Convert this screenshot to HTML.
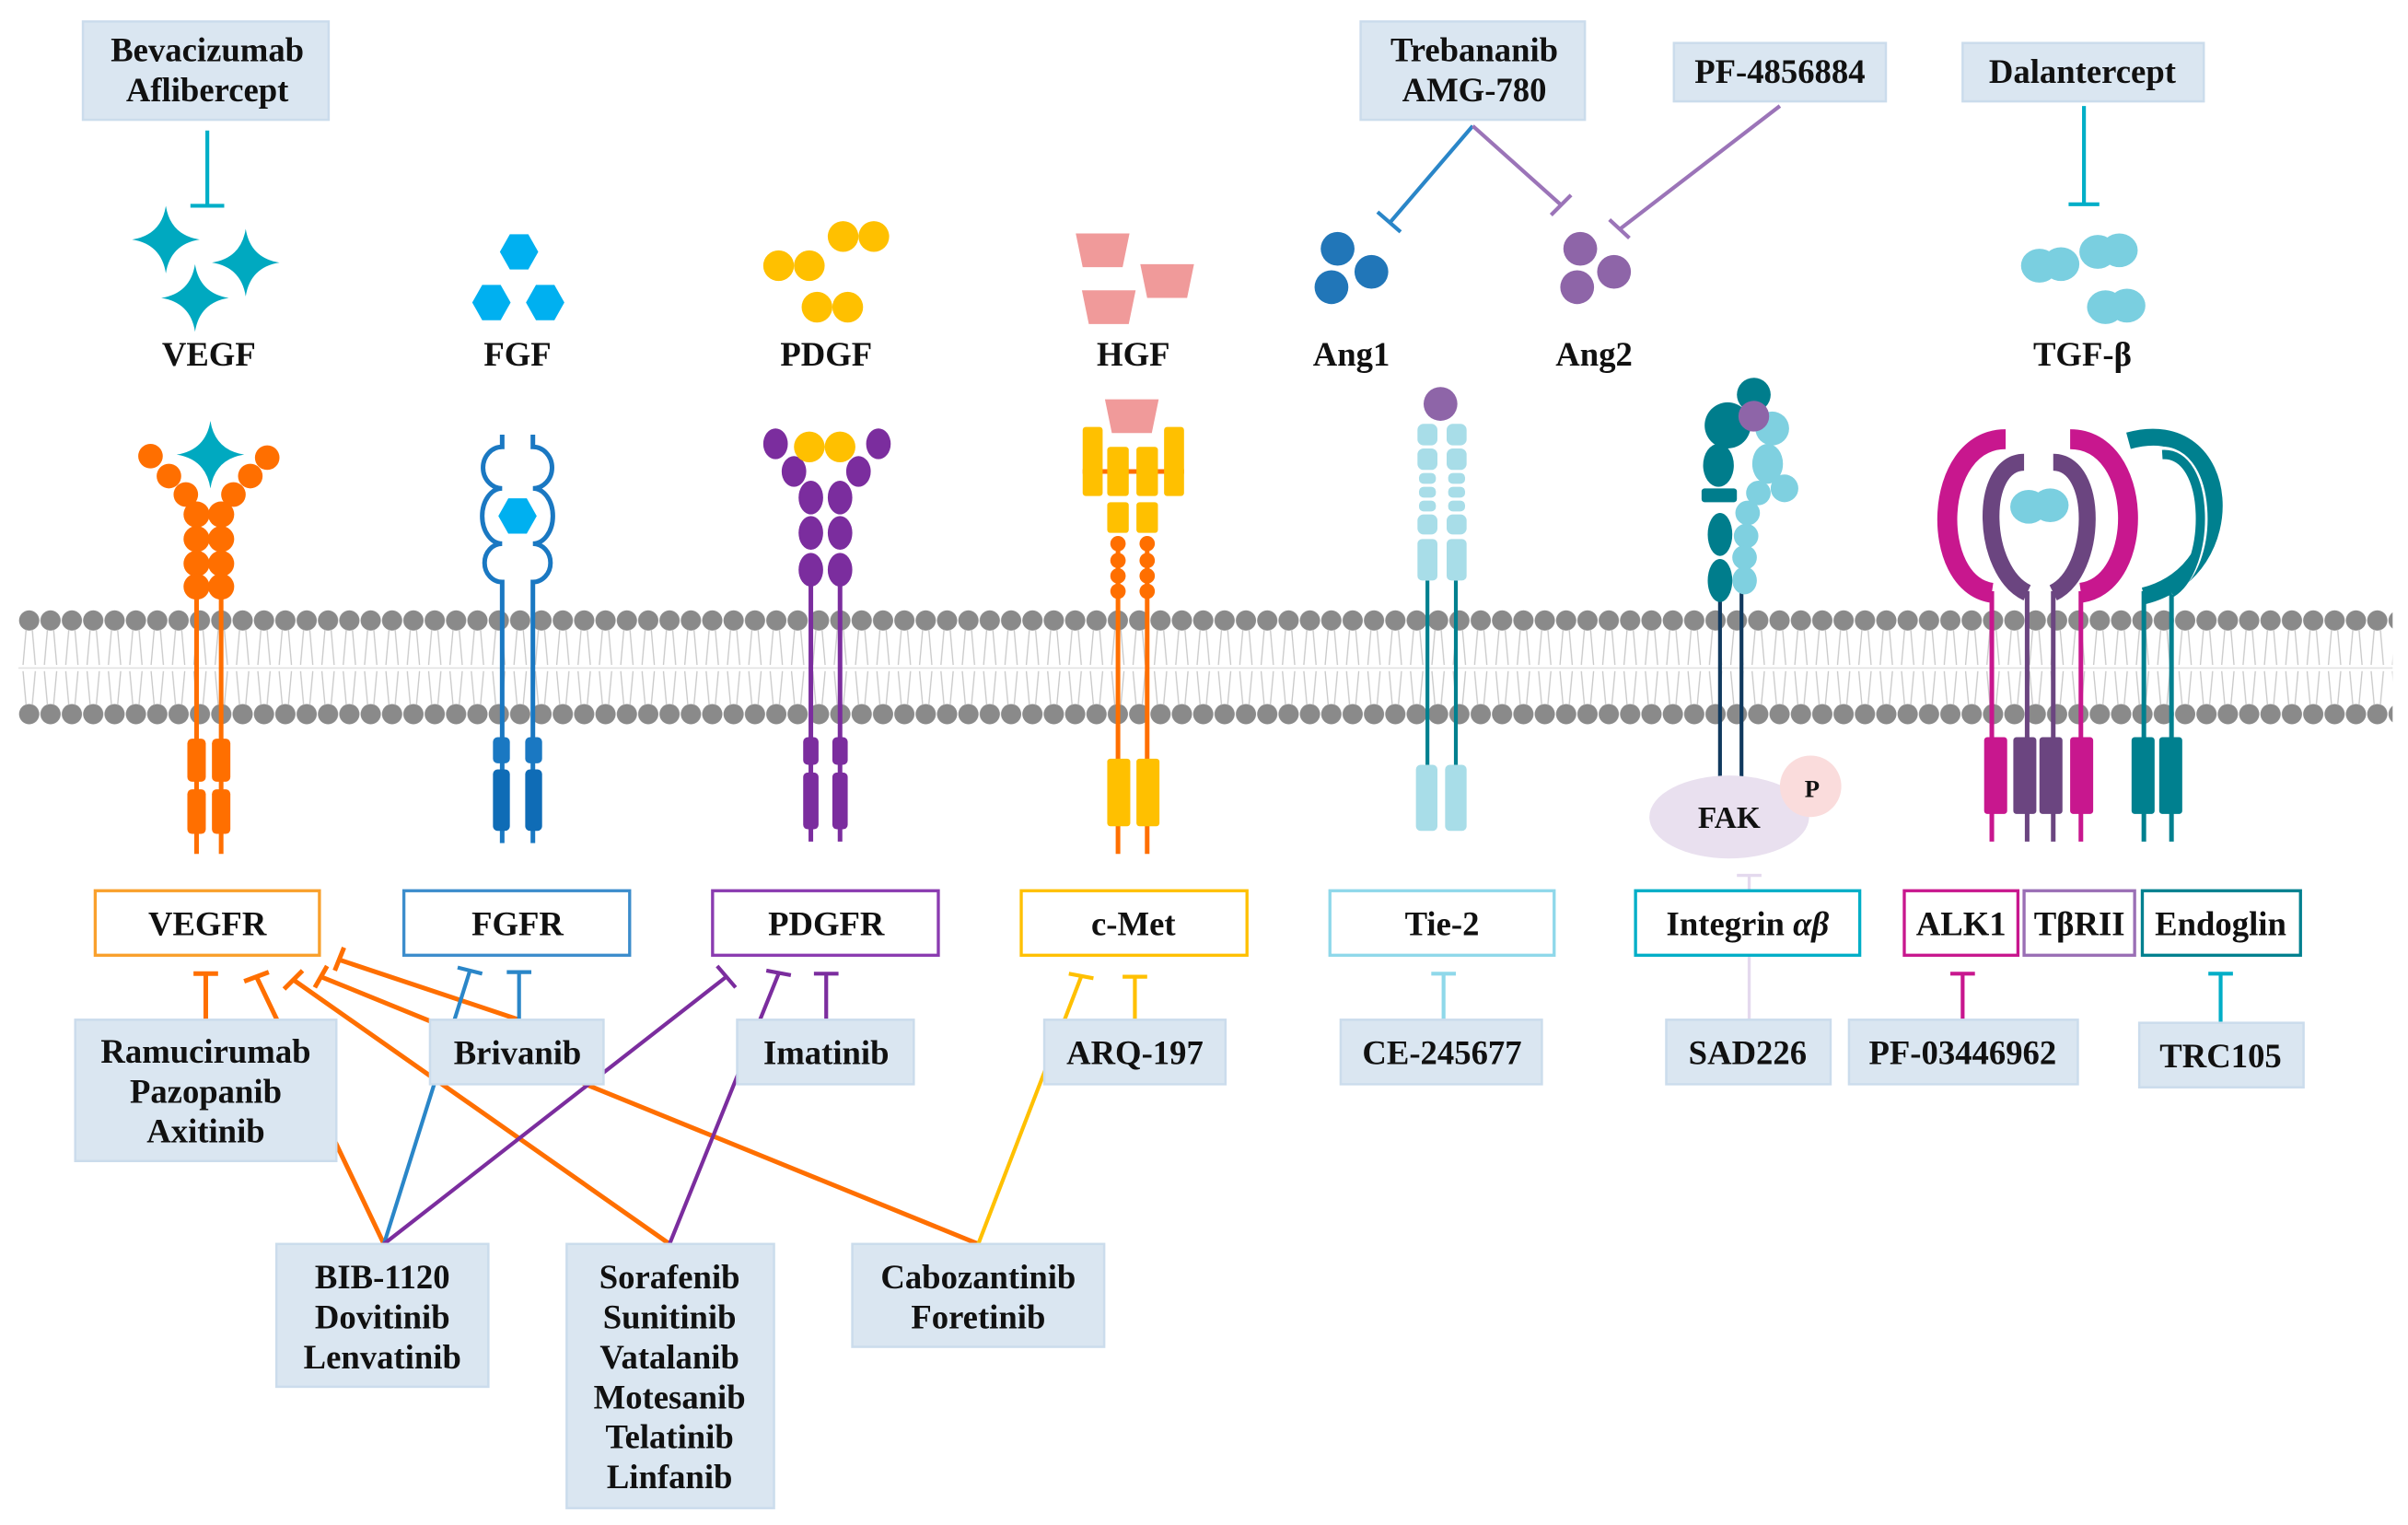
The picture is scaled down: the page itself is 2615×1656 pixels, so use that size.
<!DOCTYPE html>
<html><head><meta charset="utf-8"><style>
html,body{margin:0;padding:0;background:#fff}
svg{display:block}
text{font-family:"Liberation Serif",serif;font-weight:bold;fill:#111}
</style></head><body>
<svg width="2615" height="1656" viewBox="0 0 1568 993" preserveAspectRatio="none" xmlns="http://www.w3.org/2000/svg">
<defs>
<pattern id="bead" x="12" y="0" width="13.9" height="993" patternUnits="userSpaceOnUse">
<circle cx="7" cy="404" r="6.6" fill="#8a8a8a"/>
<circle cx="7" cy="465" r="6.6" fill="#8a8a8a"/>
<path d="M5,410 L3,433 M9,410 L11,433 M5,459 L3,437 M9,459 L11,437" stroke="#c9c9c9" stroke-width="0.8" fill="none"/>
</pattern>
<path id="star" d="M0,-22 Q3,-3 22,0 Q3,3 0,22 Q-3,3 -22,0 Q-3,-3 0,-22Z" fill="#00a9c0"/>
<path id="hex" d="M-12.5,0 L-6,-11.5 L6,-11.5 L12.5,0 L6,11.5 L-6,11.5Z" fill="#00b0f0"/>
<path id="trap" d="M-17.5,-11 L17.5,-11 L13,11 L-13,11Z" fill="#f09a9a"/>
<g id="blob" fill="#7acfe0"><ellipse cx="-7" cy="0" rx="12" ry="11"/><ellipse cx="7" cy="-1" rx="12" ry="11"/></g>
</defs>
<rect width="1568" height="993" fill="#fff"/>

<rect x="12" y="395" width="1546" height="80" fill="url(#bead)"/>
<line x1="12" y1="435" x2="1558" y2="435" stroke="#e2e2e2" stroke-width="1"/>

<g fill="#dae6f1" stroke="#cbdcec" stroke-width="1.5">
<rect x="54" y="14" width="160" height="64"/>
<rect x="886" y="14" width="146" height="64"/>
<rect x="1090" y="28" width="138" height="38"/>
<rect x="1278" y="28" width="157" height="38"/>
</g>
<g font-size="22" text-anchor="middle">
<text x="135" y="40">Bevacizumab</text><text x="135" y="66">Aflibercept</text>
<text x="960" y="40">Trebananib</text><text x="960" y="66">AMG-780</text>
<text x="1159" y="54">PF-4856884</text>
<text x="1356" y="54">Dalantercept</text>
</g>
<g fill="none" stroke-width="2.5">
<path d="M135,85 V134 M124,134 H146" stroke="#00aec7"/>
<path d="M1357,69 V133 M1347,133 H1367" stroke="#00aec7"/>
<path d="M959,82 L905,145 M897,138 L912,151" stroke="#2a86c8"/>
<path d="M959,82 L1016,133 M1010,140 L1023,127" stroke="#9b74b8"/>
<path d="M1159,69 L1055,149 M1048,143 L1061,155" stroke="#9b74b8"/>
</g>

<use href="#star" x="108" y="156"/><use href="#star" x="160" y="171"/><use href="#star" x="127" y="194"/>
<use href="#hex" x="338" y="164"/><use href="#hex" x="320" y="197"/><use href="#hex" x="355" y="197"/>
<g fill="#ffc000"><circle cx="549" cy="154" r="10"/><circle cx="569" cy="154" r="10"/><circle cx="507" cy="173" r="10"/><circle cx="527" cy="173" r="10"/><circle cx="532" cy="200" r="10"/><circle cx="552" cy="200" r="10"/></g>
<use href="#trap" x="718" y="163"/><use href="#trap" x="760" y="183"/><use href="#trap" x="722" y="200"/>
<g fill="#2176b8"><circle cx="871" cy="162" r="11"/><circle cx="893" cy="177" r="11"/><circle cx="867" cy="187" r="11"/></g>
<g fill="#8e65a8"><circle cx="1029" cy="162" r="11"/><circle cx="1051" cy="177" r="11"/><circle cx="1027" cy="187" r="11"/></g>
<use href="#blob" x="1335" y="173"/><use href="#blob" x="1373" y="164"/><use href="#blob" x="1378" y="200"/>
<g font-size="22" text-anchor="middle">
<text x="136" y="238">VEGF</text><text x="337" y="238">FGF</text><text x="538" y="238">PDGF</text><text x="738" y="238">HGF</text>
<text x="880" y="238">Ang1</text><text x="1038" y="238">Ang2</text><text x="1356" y="238">TGF-β</text>
</g>

<g fill="#ff6f00">
<path d="M128,334 V556 M144,334 V556" stroke="#ff6f00" stroke-width="3"/>
<circle cx="98" cy="297" r="8"/><circle cx="110" cy="310" r="8"/><circle cx="121" cy="322" r="8"/>
<circle cx="174" cy="298" r="8"/><circle cx="163" cy="310" r="8"/><circle cx="152" cy="322" r="8"/>
<circle cx="128" cy="335" r="8.5"/><circle cx="144" cy="335" r="8.5"/><circle cx="128" cy="351" r="8.5"/><circle cx="144" cy="351" r="8.5"/>
<circle cx="128" cy="367" r="8.5"/><circle cx="144" cy="367" r="8.5"/><circle cx="128" cy="382" r="8.5"/><circle cx="144" cy="382" r="8.5"/>
<rect x="122" y="481" width="12" height="28" rx="3"/><rect x="138" y="481" width="12" height="28" rx="3"/>
<rect x="122" y="514" width="12" height="29" rx="3"/><rect x="138" y="514" width="12" height="29" rx="3"/>
</g>
<use href="#star" x="137" y="296"/>

<g fill="none" stroke="#1a78c2" stroke-width="3">
<path d="M327,283 V291 A12,13 0 0 0 327,318 A13,18 0 0 0 327,354 A11,12 0 0 0 327,379 V549"/>
<path d="M347,283 V291 A12,13 0 0 1 347,318 A13,18 0 0 1 347,354 A11,12 0 0 1 347,379 V549"/>
</g>
<use href="#hex" x="337" y="336"/>
<g fill="#1a78c2"><rect x="321" y="480" width="11" height="17" rx="3"/><rect x="342" y="480" width="11" height="17" rx="3"/>
<rect x="321" y="501" width="11" height="40" rx="3" fill="#0f6cb6"/><rect x="342" y="501" width="11" height="40" rx="3" fill="#0f6cb6"/></g>

<g fill="#7b2d9e">
<path d="M528,371 V548 M547,371 V548" stroke="#7b2d9e" stroke-width="3"/>
<ellipse cx="505" cy="289" rx="8" ry="10"/><ellipse cx="517" cy="307" rx="8" ry="10"/>
<ellipse cx="572" cy="289" rx="8" ry="10"/><ellipse cx="559" cy="307" rx="8" ry="10"/>
<ellipse cx="528" cy="324" rx="8" ry="11"/><ellipse cx="547" cy="324" rx="8" ry="11"/>
<ellipse cx="528" cy="347" rx="8" ry="11"/><ellipse cx="547" cy="347" rx="8" ry="11"/>
<ellipse cx="528" cy="371" rx="8" ry="11"/><ellipse cx="547" cy="371" rx="8" ry="11"/>
<rect x="523" y="480" width="10" height="18" rx="3"/><rect x="542" y="480" width="10" height="18" rx="3"/>
<rect x="523" y="503" width="10" height="37" rx="3"/><rect x="542" y="503" width="10" height="37" rx="3"/>
</g>
<circle cx="527" cy="291" r="10" fill="#ffc000"/><circle cx="547" cy="291" r="10" fill="#ffc000"/>

<path d="M728,350 V556 M747,350 V556 M705,307 H771" stroke="#ff6f00" stroke-width="3" fill="none"/>
<g fill="#ffc000">
<rect x="705" y="278" width="13" height="45" rx="2"/><rect x="721" y="291" width="14" height="32" rx="2"/>
<rect x="740" y="291" width="14" height="32" rx="2"/><rect x="758" y="278" width="13" height="45" rx="2"/>
<rect x="721" y="327" width="14" height="20" rx="2"/><rect x="740" y="327" width="14" height="20" rx="2"/>
<rect x="721" y="494" width="15" height="44" rx="2"/><rect x="740" y="494" width="15" height="44" rx="2"/>
</g>
<g fill="#ff6f00"><circle cx="728" cy="354" r="5"/><circle cx="747" cy="354" r="5"/><circle cx="728" cy="365" r="5"/><circle cx="747" cy="365" r="5"/><circle cx="728" cy="375" r="5"/><circle cx="747" cy="375" r="5"/><circle cx="728" cy="385" r="5"/><circle cx="747" cy="385" r="5"/></g>
<use href="#trap" x="737" y="271"/>

<path d="M929.5,378 V498 M948,378 V498" stroke="#00808f" stroke-width="2.5"/>
<g fill="#a8dde8">
<rect x="923" y="276" width="13" height="14" rx="4"/><rect x="942" y="276" width="13" height="14" rx="4"/>
<rect x="923" y="292" width="13" height="14" rx="4"/><rect x="942" y="292" width="13" height="14" rx="4"/>
<rect x="924" y="308" width="11" height="7" rx="3"/><rect x="943" y="308" width="11" height="7" rx="3"/>
<rect x="924" y="317" width="11" height="7" rx="3"/><rect x="943" y="317" width="11" height="7" rx="3"/>
<rect x="924" y="326" width="11" height="7" rx="3"/><rect x="943" y="326" width="11" height="7" rx="3"/>
<rect x="923" y="335" width="13" height="13" rx="4"/><rect x="942" y="335" width="13" height="13" rx="4"/>
<rect x="923" y="351" width="13" height="27" rx="3"/><rect x="942" y="351" width="13" height="27" rx="3"/>
<rect x="922" y="498" width="14" height="43" rx="3"/><rect x="941" y="498" width="14" height="43" rx="3"/>
</g>
<circle cx="938" cy="263" r="11" fill="#8e65a8"/>

<path d="M1120,385 V508 M1134,385 V508" stroke="#10395e" stroke-width="2.5"/>
<g fill="#7fd0e0">
<circle cx="1154" cy="279" r="11"/><ellipse cx="1151" cy="302" rx="10" ry="13"/><circle cx="1162" cy="318" r="9"/><circle cx="1145" cy="321" r="8"/>
<ellipse cx="1138" cy="334" rx="8" ry="8"/><ellipse cx="1137" cy="349" rx="8" ry="8"/><ellipse cx="1136" cy="363" rx="8" ry="8"/><ellipse cx="1136" cy="378" rx="8" ry="9"/>
</g>
<g fill="#007d8c">
<circle cx="1142" cy="257" r="11"/><circle cx="1125" cy="277" r="15"/><ellipse cx="1119" cy="303" rx="10" ry="14"/>
<rect x="1108" y="318" width="23" height="9" rx="2"/><ellipse cx="1120" cy="348" rx="8" ry="14"/><ellipse cx="1120" cy="378" rx="8" ry="14"/>
</g>
<circle cx="1142" cy="271" r="10" fill="#8e65a8"/>
<ellipse cx="1126" cy="532" rx="52" ry="27" fill="#e9e0ef"/>
<circle cx="1179" cy="512" r="20" fill="#fadcdc"/>
<text x="1126" y="539" font-size="20" text-anchor="middle">FAK</text>
<text x="1180" y="519" font-size="16" text-anchor="middle">P</text>

<g fill="none" stroke-linecap="butt">
<path d="M1297,385 V548 M1355,385 V548" stroke="#c8178e" stroke-width="3"/>
<path d="M1320,385 V548 M1337,385 V548" stroke="#6b4580" stroke-width="3"/>
<path d="M1396,385 V548 M1414,385 V548" stroke="#00808f" stroke-width="3"/>
<path d="M1306,286 C1258,286 1256,380 1297,386" stroke="#c8178e" stroke-width="13"/>
<path d="M1348,286 C1396,286 1398,380 1355,386" stroke="#c8178e" stroke-width="13"/>
<path d="M1318,301 C1288,301 1290,372 1320,386" stroke="#6b4580" stroke-width="11"/>
<path d="M1337,301 C1367,301 1366,372 1337,386" stroke="#6b4580" stroke-width="11"/>
<path d="M1386,287 C1455,268 1462,372 1396,388" stroke="#00808f" stroke-width="11"/>
<path d="M1402,293 C1444,284 1446,372 1414,386" stroke="#fff" stroke-width="3"/>
<path d="M1408,296 C1440,294 1440,370 1414,386" stroke="#00808f" stroke-width="6"/>
</g>
<use href="#blob" x="1328" y="330"/>
<g><rect x="1292" y="480" width="15" height="50" rx="2" fill="#c8178e"/><rect x="1311" y="480" width="15" height="50" rx="2" fill="#6b4580"/>
<rect x="1328" y="480" width="15" height="50" rx="2" fill="#6b4580"/><rect x="1348" y="480" width="15" height="50" rx="2" fill="#c8178e"/>
<rect x="1388" y="480" width="15" height="50" rx="2" fill="#00808f"/><rect x="1406" y="480" width="15" height="50" rx="2" fill="#00808f"/></g>

<g fill="none" stroke-width="3">
<path d="M134,664 V634 M126,634 H142" stroke="#ff6f00"/>
<path d="M250,810 L167,636 M159,639 L175,633" stroke="#ff6f00"/>
<path d="M436,810 L191,638 M185,644 L197,632" stroke="#ff6f00"/>
<path d="M637,810 L209,636 M205,643 L213,629" stroke="#ff6f00"/>
<path d="M338,664 L221,625 M218,632 L224,617" stroke="#ff6f00"/>
<path d="M250,810 L306,632 M298,630 L314,634" stroke="#2a86c8" stroke-width="2.5"/>
<path d="M338,664 V633 M330,633 H346" stroke="#2a86c8" stroke-width="2.5"/>
<path d="M250,810 L473,636 M467,629 L479,643" stroke="#7b2d9e" stroke-width="2.5"/>
<path d="M436,810 L507,634 M499,632 L515,635" stroke="#7b2d9e" stroke-width="2.5"/>
<path d="M538,664 V634 M530,634 H546" stroke="#7b2d9e" stroke-width="2.5"/>
<path d="M637,810 L704,636 M696,634 L712,637" stroke="#ffc000" stroke-width="2.5"/>
<path d="M739,664 V636 M731,636 H747" stroke="#ffc000" stroke-width="2.5"/>
<path d="M940,664 V634 M932,634 H948" stroke="#8fd8ea" stroke-width="2.5"/>
<path d="M1139,664 V570 M1131,570 H1147" stroke="#e4d9ee" stroke-width="2"/>
<path d="M1278,664 V634 M1270,634 H1286" stroke="#c8178e" stroke-width="2.5"/>
<path d="M1446,666 V634 M1438,634 H1454" stroke="#00aec7" stroke-width="2.5"/>
</g>

<g fill="#fff" stroke-width="2">
<rect x="62" y="580" width="146" height="42" stroke="#f9a02c"/>
<rect x="263" y="580" width="147" height="42" stroke="#3c8dcc"/>
<rect x="464" y="580" width="147" height="42" stroke="#8a3bb0"/>
<rect x="665" y="580" width="147" height="42" stroke="#ffc000"/>
<rect x="866" y="580" width="146" height="42" stroke="#8fd8ea"/>
<rect x="1065" y="580" width="146" height="42" stroke="#00aec7"/>
<rect x="1240" y="580" width="74" height="42" stroke="#c8178e"/>
<rect x="1318" y="580" width="72" height="42" stroke="#9a6fb5"/>
<rect x="1395" y="580" width="103" height="42" stroke="#00808f"/>
</g>
<g font-size="22" text-anchor="middle">
<text x="135" y="609">VEGFR</text><text x="337" y="609">FGFR</text><text x="538" y="609">PDGFR</text><text x="738" y="609">c-Met</text>
<text x="939" y="609">Tie-2</text><text x="1138" y="609">Integrin <tspan font-style="italic">αβ</tspan></text>
<text x="1277" y="609">ALK1</text><text x="1354" y="609">TβRII</text><text x="1446" y="609">Endoglin</text>
</g>

<g fill="#dae6f1" stroke="#cbdcec" stroke-width="1.5">
<rect x="49" y="664" width="170" height="92"/>
<rect x="280" y="664" width="113" height="42"/>
<rect x="480" y="664" width="115" height="42"/>
<rect x="680" y="664" width="118" height="42"/>
<rect x="873" y="664" width="131" height="42"/>
<rect x="1085" y="664" width="107" height="42"/>
<rect x="1204" y="664" width="149" height="42"/>
<rect x="1393" y="666" width="107" height="42"/>
<rect x="180" y="810" width="138" height="93"/>
<rect x="369" y="810" width="135" height="172"/>
<rect x="555" y="810" width="164" height="67"/>
</g>
<g font-size="22" text-anchor="middle">
<text x="134" y="692">Ramucirumab</text><text x="134" y="718">Pazopanib</text><text x="134" y="744">Axitinib</text>
<text x="337" y="693">Brivanib</text><text x="538" y="693">Imatinib</text><text x="739" y="693">ARQ-197</text>
<text x="939" y="693">CE-245677</text><text x="1138" y="693">SAD226</text><text x="1278" y="693">PF-03446962</text><text x="1446" y="695">TRC105</text>
<text x="249" y="839">BIB-1120</text><text x="249" y="865">Dovitinib</text><text x="249" y="891">Lenvatinib</text>
<text x="436" y="839">Sorafenib</text><text x="436" y="865">Sunitinib</text><text x="436" y="891">Vatalanib</text>
<text x="436" y="917">Motesanib</text><text x="436" y="943">Telatinib</text><text x="436" y="969">Linfanib</text>
<text x="637" y="839">Cabozantinib</text><text x="637" y="865">Foretinib</text>
</g>
</svg>
</body></html>
